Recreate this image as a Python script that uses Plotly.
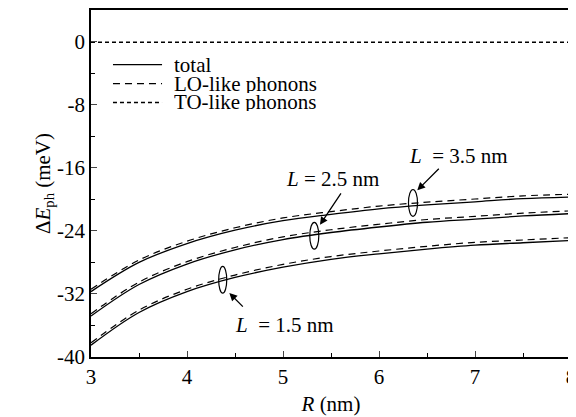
import plotly.graph_objects as go

R = [3.0, 3.5, 4.0, 4.5, 5.0, 5.5, 6.0, 6.5, 7.0, 7.5, 8.0]

total_L15 = [-38.5, -34.35, -31.7, -29.9, -28.6, -27.6, -26.9, -26.3, -25.8, -25.5, -25.2]
total_L25 = [-34.8, -30.8, -28.2, -26.4, -25.1, -24.2, -23.5, -22.9, -22.5, -22.1, -21.8]
total_L35 = [-31.7, -28.0, -25.6, -23.9, -22.7, -21.9, -21.2, -20.7, -20.3, -19.9, -19.7]

lo_L15 = [-38.2, -34.05, -31.4, -29.6, -28.25, -27.25, -26.55, -25.95, -25.45, -25.15, -24.85]
lo_L25 = [-34.5, -30.5, -27.9, -26.1, -24.75, -23.85, -23.15, -22.55, -22.15, -21.75, -21.45]
lo_L35 = [-31.4, -27.7, -25.3, -23.6, -22.35, -21.55, -20.85, -20.35, -19.95, -19.55, -19.35]

to_all = [-0.05, -0.05, -0.05, -0.05, -0.05, -0.05, -0.05, -0.05, -0.05, -0.05, -0.05]

series_names = ["total", "LO-like phonons", "TO-like phonons"]
x_ticks = [3, 4, 5, 6, 7, 8]
y_ticks = [0, -8, -16, -24, -32, -40]
y_ticklabels = ["0", "-8", "-16", "-24", "-32", "-40"]

FONT = "serif"

SOLID = dict(color="black", width=1.3)
DASHED = dict(color="black", width=1.2, dash="7px,5px")
DOTTED = dict(color="black", width=1.5, dash="4px,3px")

fig = go.Figure()

for tot in [total_L15, total_L25, total_L35]:
    fig.add_trace(go.Scatter(x=R, y=tot, mode="lines", line=dict(SOLID, shape="spline"),
                             name=series_names[0], showlegend=False))
for lo in [lo_L15, lo_L25, lo_L35]:
    fig.add_trace(go.Scatter(x=R, y=lo, mode="lines", line=dict(DASHED, shape="spline"),
                             name=series_names[1], showlegend=False))
fig.add_trace(go.Scatter(x=R, y=to_all, mode="lines", line=DOTTED,
                         name=series_names[2], showlegend=False))

# hand-drawn legend (tight row spacing like the original)
leg_rows = [0.8424, 0.788, 0.7335]
for name, style, yy in zip(series_names, [SOLID, DASHED, DOTTED], leg_rows):
    fig.add_shape(type="line", xref="paper", yref="paper", x0=0.0458, x1=0.148, y0=yy, y1=yy, line=style)
    fig.add_annotation(xref="paper", yref="paper", x=0.169, y=yy, xanchor="left", yanchor="middle",
                       text=name, showarrow=False, height=18, valign="middle",
                       font=dict(family=FONT, size=21, color="black"))

# ellipses marking curve groups
ellipses = [
    (6.307, 6.401, -22.14, -18.74),
    (5.279, 5.373, -26.31, -22.91),
    (4.330, 4.414, -31.90, -28.50),
]
for x0, x1, y0, y1 in ellipses:
    fig.add_shape(type="circle", xref="x", yref="y", x0=x0, x1=x1, y0=y0, y1=y1,
                  line=dict(color="black", width=1.2), layer="above")

labels = [
    ("<i>L</i>  = 3.5 nm", 6.823, -14.51),
    ("<i>L</i> = 2.5 nm", 5.516, -17.41),
    ("<i>L</i>  = 1.5 nm", 5.02, -35.96),
]
for t, x, y in labels:
    fig.add_annotation(x=x, y=y, text=t, showarrow=False, font=dict(family=FONT, size=21, color="black"))

arrows = [
    (6.399, -18.84, 23, -23),
    (5.385, -23.22, 22, -33),
    (4.441, -31.89, 15, 15),
]
for x, y, ax, ay in arrows:
    fig.add_annotation(x=x, y=y, ax=ax, ay=ay, text="", showarrow=True, arrowhead=2,
                       arrowsize=1.2, arrowwidth=1.3, arrowcolor="black", standoff=0)

fig.update_layout(
    width=572, height=409,
    margin=dict(l=83, r=9, t=0, b=60),
    paper_bgcolor="white", plot_bgcolor="white",
    font=dict(family=FONT, size=21, color="black"),
    showlegend=False,
)
fig.update_xaxes(range=[3, 8], tickvals=x_ticks, ticks="inside", ticklen=6, tickwidth=1.2,
                 showline=True, linewidth=1.5, linecolor="black", mirror=True, showgrid=False, zeroline=False,
                 ticklabeloverflow="allow",
                 minor=dict(dtick=0.5, ticks="inside", ticklen=4, tickwidth=1.2, tickcolor="black"),
                 title=dict(text="<i>R</i> (nm)", font=dict(family=FONT, size=21), standoff=8),
                 tickfont=dict(family=FONT, size=21))
fig.update_yaxes(range=[-40, 4.04], tickvals=y_ticks, ticktext=y_ticklabels, ticks="inside", ticklen=6, tickwidth=1.2,
                 showline=True, linewidth=1.5, linecolor="black", mirror=True, showgrid=False, zeroline=False,
                 ticklabeloverflow="allow",
                 minor=dict(tickvals=[-4, -12, -20, -28, -36], ticks="inside", ticklen=4, tickwidth=1.2, tickcolor="black"),
                 title=dict(text="Δ<i>E</i><sub>ph</sub> (meV)", font=dict(family=FONT, size=21), standoff=0),
                 tickfont=dict(family=FONT, size=21))

fig.write_html("out.html")
